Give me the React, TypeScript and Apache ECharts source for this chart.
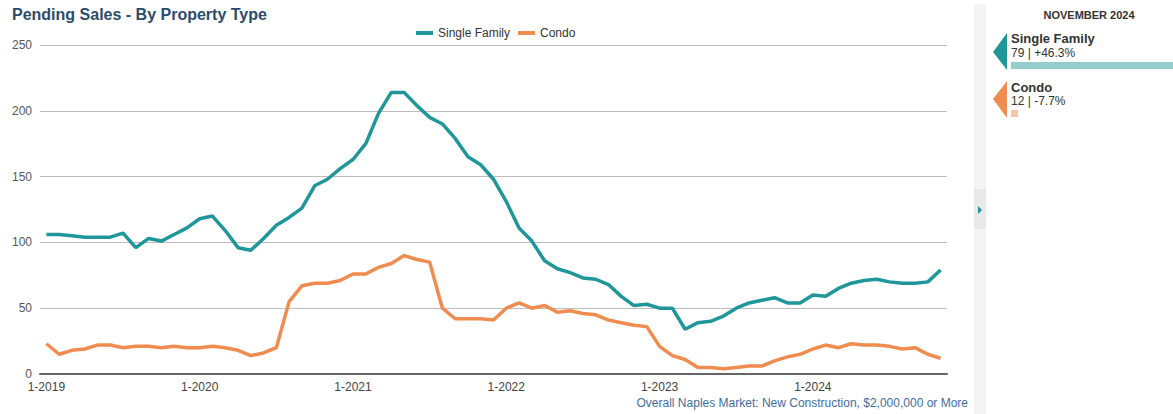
import React, { useEffect, useRef } from "react";
import * as echarts from "echarts";

const months: string[] = [];
for (let y = 2019; y <= 2024; y++) {
  for (let m = 1; m <= 12; m++) {
    if (y === 2024 && m > 11) break;
    months.push(`${m}-${y}`);
  }
}

const singleFamily = [
  106, 106, 105, 104, 104, 104, 107, 96, 103, 101, 106, 111,
  118, 120, 109, 96, 94, 103, 113, 119, 126, 143, 148, 156,
  163, 175, 198, 214, 214, 204, 195, 190, 179, 165, 159, 148,
  131, 111, 101, 86, 80, 77, 73, 72, 68, 59, 52, 53,
  50, 50, 34, 39, 40, 44, 50, 54, 56, 58, 54, 54,
  60, 59, 65, 69, 71, 72, 70, 69, 69, 70, 79,
];

const condo = [
  23, 15, 18, 19, 22, 22, 20, 21, 21, 20, 21, 20,
  20, 21, 20, 18, 14, 16, 20, 55, 67, 69, 69, 71,
  76, 76, 81, 84, 90, 87, 85, 50, 42, 42, 42, 41,
  50, 54, 50, 52, 47, 48, 46, 45, 41, 39, 37, 36,
  21, 14, 11, 5, 5, 4, 5, 6, 6, 10, 13, 15,
  19, 22, 20, 23, 22, 22, 21, 19, 20, 15, 12,
];

const seriesNames = ["Single Family", "Condo"];
const summaryPct = [46.3, -7.7];
const panelMonth = "NOVEMBER 2024";
const footer = "Overall Naples Market: New Construction, $2,000,000 or More";

const TEAL = "#1f979a";
const ORANGE = "#f08c4f";
const TEAL_LIGHT = "#95cdcd";
const ORANGE_LIGHT = "#f8c6a5";
const FONT = "'Liberation Sans', Arial, sans-serif";

export default function App() {
  const ref = useRef<HTMLDivElement>(null);
  useEffect(() => {
    if (!ref.current) return;
    const chart = echarts.init(ref.current, undefined, { renderer: "svg" });
    const lastSF = singleFamily[singleFamily.length - 1];
    const lastC = condo[condo.length - 1];
    const fmt = (p: number) => (p >= 0 ? "+" : "") + p.toFixed(1) + "%";
    const barW = (p: number) => Math.max(7, p * 3.6);

    chart.setOption({
      animation: false,
      textStyle: { fontFamily: FONT },
      title: {
        text: "Pending Sales - By Property Type",
        left: 7,
        top: 1,
        textStyle: { fontFamily: FONT, fontSize: 16, fontWeight: "bold", color: "#2b4c6d" },
      },
      legend: {
        data: seriesNames,
        left: 411,
        top: 22,
        icon: "rect",
        itemWidth: 17,
        itemHeight: 4,
        itemGap: 8,
        textStyle: { fontFamily: FONT, fontSize: 12, color: "#333" },
      },
      grid: { left: 40, right: 226, top: 45, bottom: 40, containLabel: false },
      xAxis: {
        type: "category",
        data: months,
        boundaryGap: true,
        axisLine: { lineStyle: { color: "#666", width: 2 } },
        axisTick: {
          alignWithLabel: true,
          interval: (i: number) => i % 12 === 0,
          length: 6,
          lineStyle: { color: "#666", width: 2 },
        },
        axisLabel: {
          interval: (i: number) => i % 12 === 0,
          color: "#444",
          fontSize: 12,
          fontFamily: FONT,
          margin: 7,
        },
        splitLine: { show: false },
      },
      yAxis: {
        type: "value",
        min: 0,
        max: 250,
        interval: 50,
        axisLine: { show: false },
        axisTick: { show: false },
        axisLabel: { color: "#555", fontSize: 12, fontFamily: FONT, margin: 8 },
        splitLine: { lineStyle: { color: "#bdbdbd", width: 1 } },
      },
      series: [
        {
          name: seriesNames[0],
          type: "line",
          data: singleFamily,
          symbol: "none",
          lineStyle: { color: TEAL, width: 3.5 },
          itemStyle: { color: TEAL },
          z: 3,
        },
        {
          name: seriesNames[1],
          type: "line",
          data: condo,
          symbol: "none",
          lineStyle: { color: ORANGE, width: 3.5 },
          itemStyle: { color: ORANGE },
          z: 2,
        },
      ],
      graphic: [
        {
          type: "text",
          right: 205,
          top: 397,
          style: { text: footer, fill: "#3f6d9e", font: `12px ${FONT}` },
        },
        { type: "rect", shape: { x: 974, y: 4, width: 12, height: 410 }, style: { fill: "#f4f4f4" } },
        { type: "rect", shape: { x: 974, y: 189, width: 12, height: 40 }, style: { fill: "#e9e9e9" } },
        { type: "polygon", shape: { points: [[978, 206], [982, 210], [978, 214]] }, style: { fill: TEAL } },
        {
          type: "text",
          x: 1089,
          y: 15,
          style: { text: panelMonth, fill: "#333", font: `bold 11px ${FONT}`, align: "center", verticalAlign: "middle" },
        },
        { type: "polygon", shape: { points: [[1007, 33], [993, 52], [1007, 70]] }, style: { fill: TEAL } },
        {
          type: "text",
          x: 1011,
          y: 38,
          style: { text: seriesNames[0], fill: "#333", font: `bold 13px ${FONT}`, verticalAlign: "middle" },
        },
        {
          type: "text",
          x: 1011,
          y: 53,
          style: { text: `${lastSF} | ${fmt(summaryPct[0])}`, fill: "#333", font: `12px ${FONT}`, verticalAlign: "middle" },
        },
        { type: "rect", shape: { x: 1011, y: 62, width: barW(summaryPct[0]), height: 7 }, style: { fill: TEAL_LIGHT } },
        { type: "polygon", shape: { points: [[1007, 81], [993, 99], [1007, 118]] }, style: { fill: ORANGE } },
        {
          type: "text",
          x: 1011,
          y: 87,
          style: { text: seriesNames[1], fill: "#333", font: `bold 13px ${FONT}`, verticalAlign: "middle" },
        },
        {
          type: "text",
          x: 1011,
          y: 101,
          style: { text: `${lastC} | ${fmt(summaryPct[1])}`, fill: "#333", font: `12px ${FONT}`, verticalAlign: "middle" },
        },
        { type: "rect", shape: { x: 1011, y: 110, width: barW(summaryPct[1]), height: 7 }, style: { fill: ORANGE_LIGHT } },
      ],
    });
    return () => chart.dispose();
  }, []);
  return (
    <div
      ref={ref}
      style={{ position: "absolute", left: 0, top: 0, width: 1173, height: 414, background: "#fff" }}
    />
  );
}
